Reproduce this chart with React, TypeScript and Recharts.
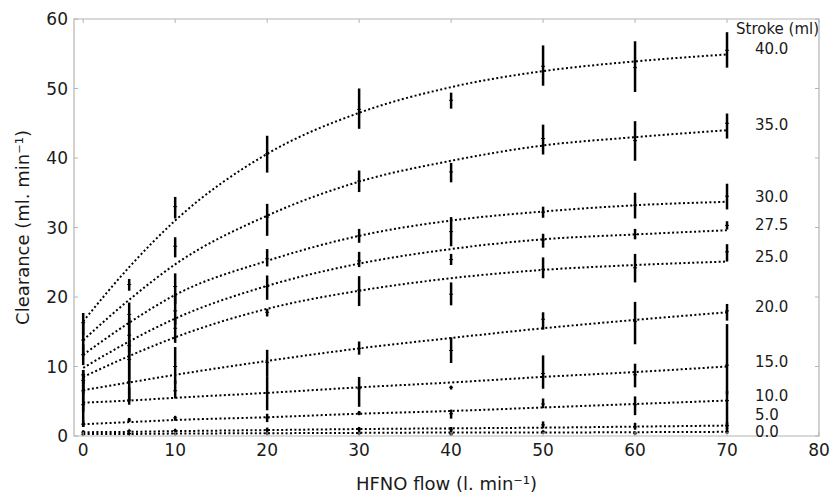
import React from 'react';
import {
  ComposedChart,
  Line,
  Scatter,
  ErrorBar,
  XAxis,
  YAxis,
  ReferenceArea,
  LabelList,
  Customized,
} from 'recharts';

// ---------- data ----------
const flows = [0, 5, 10, 20, 30, 40, 50, 60, 70];
const xTicks = [0, 10, 20, 30, 40, 50, 60, 70, 80];
const yTicks = [0, 10, 20, 30, 40, 50, 60];
const strokeKeys = ['s0', 's5', 's10', 's15', 's20', 's25', 's275', 's30', 's35', 's40'];
const strokeLabels = ['0.0', '5.0', '10.0', '15.0', '20.0', '25.0', '27.5', '30.0', '35.0', '40.0'];

// fitted curves (clearance at each flow)
const fit0 = [0.3, 0.3, 0.35, 0.4, 0.45, 0.5, 0.5, 0.55, 0.6];
const fit5 = [0.55, 0.6, 0.7, 0.85, 1.0, 1.1, 1.2, 1.35, 1.5];
const fit10 = [1.7, 2.0, 2.3, 2.7, 3.2, 3.6, 4.1, 4.6, 5.1];
const fit15 = [4.8, 5.1, 5.5, 6.2, 7.0, 7.7, 8.5, 9.2, 10.0];
const fit20 = [6.6, 7.7, 8.8, 10.8, 12.6, 14.1, 15.5, 16.7, 17.8];
const fit25 = [8.5, 11.5, 14.2, 18.3, 20.9, 22.7, 23.9, 24.6, 25.1];
const fit275 = [9.8, 13.6, 16.9, 21.6, 24.8, 26.9, 28.3, 29.0, 29.6];
const fit30 = [11.7, 16.3, 20.3, 25.2, 28.8, 31.0, 32.3, 33.2, 33.7];
const fit35 = [13.8, 19.6, 24.7, 31.7, 36.6, 39.6, 41.8, 43.0, 44.0];
const fit40 = [16.5, 24.3, 31.0, 40.6, 46.5, 50.2, 52.5, 53.9, 54.9];

// measured means
const mean0 = [0.25, 0.35, 0.35, 0.4, 0.4, 0.3, 0.6, 0.4, 0.6];
const mean5 = [0.55, 0.75, 0.8, 0.9, 0.95, 0.9, 1.6, 1.3, 1.5];
const mean10 = [1.7, 2.3, 2.6, 2.6, 3.3, 3.2, 4.6, 4.5, 5.1];
const mean15 = [4.5, 5.2, 6.5, 6.2, 6.8, 7.0, 9.0, 8.8, 10.2];
const mean20 = [6.5, 7.8, 10.0, 10.6, 12.6, 12.3, 16.8, 16.5, 18.0];
const mean25 = [8.0, 11.0, 15.5, 17.8, 21.0, 20.4, 24.0, 24.2, 26.5];
const mean275 = [8.8, 13.0, 18.0, 21.5, 25.2, 25.4, 28.2, 29.0, 30.3];
const mean30 = [11.7, 14.5, 21.5, 25.5, 28.8, 29.4, 32.2, 33.2, 34.5];
const mean35 = [13.8, 17.5, 27.3, 31.5, 36.7, 38.0, 42.8, 42.5, 45.0];
const mean40 = [16.3, 21.8, 33.0, 40.6, 47.0, 48.3, 53.2, 53.0, 55.5];

// lower ends of the error bars
const low0 = [0.1, 0.2, 0.2, 0.2, 0.2, 0.1, 0.3, 0.2, 0.3];
const low5 = [0.3, 0.6, 0.6, 0.6, 0.6, 0.5, 1.1, 0.9, 0.8];
const low10 = [1.3, 2.0, 2.2, 2.0, 3.0, 2.5, 4.0, 3.0, 1.0];
const low15 = [1.3, 4.5, 5.4, 3.7, 4.2, 6.7, 6.8, 7.0, 6.0];
const low20 = [3.5, 5.0, 7.5, 8.5, 11.7, 10.5, 15.3, 13.2, 16.6];
const low25 = [6.0, 8.0, 13.4, 17.2, 18.7, 18.8, 22.7, 22.1, 25.1];
const low275 = [7.5, 10.5, 16.0, 19.6, 24.3, 24.6, 27.1, 28.3, 29.7];
const low30 = [10.2, 12.0, 19.0, 24.4, 27.8, 27.3, 31.4, 31.3, 32.6];
const low35 = [11.5, 15.0, 25.7, 28.8, 35.1, 36.5, 40.5, 39.6, 42.8];
const low40 = [14.5, 20.9, 31.3, 37.9, 44.2, 47.1, 50.4, 49.5, 53.0];

// upper ends of the error bars
const high0 = [0.4, 0.5, 0.5, 0.6, 0.6, 0.5, 0.8, 0.6, 0.9];
const high5 = [0.8, 0.9, 1.0, 1.2, 1.3, 1.3, 2.1, 1.9, 2.0];
const high10 = [2.2, 2.6, 2.9, 3.2, 3.6, 3.8, 5.4, 5.7, 6.5];
const high15 = [8.0, 7.0, 8.0, 8.5, 8.5, 7.2, 11.6, 10.4, 16.1];
const high20 = [9.0, 10.5, 12.8, 12.4, 13.6, 14.2, 17.8, 19.3, 19.0];
const high25 = [9.5, 13.5, 17.0, 18.3, 23.0, 22.1, 25.7, 26.2, 27.6];
const high275 = [9.5, 15.0, 20.5, 23.1, 26.5, 26.2, 29.1, 29.8, 30.9];
const high30 = [13.2, 17.0, 23.4, 26.9, 29.8, 31.5, 33.0, 35.0, 36.3];
const high35 = [16.5, 19.2, 28.6, 33.4, 38.2, 39.3, 44.8, 45.3, 46.4];
const high40 = [17.7, 22.6, 34.4, 43.2, 50.0, 49.4, 56.2, 56.8, 58.1];

const fits = [fit0, fit5, fit10, fit15, fit20, fit25, fit275, fit30, fit35, fit40];
const means = [mean0, mean5, mean10, mean15, mean20, mean25, mean275, mean30, mean35, mean40];
const lows = [low0, low5, low10, low15, low20, low25, low275, low30, low35, low40];
const highs = [high0, high5, high10, high15, high20, high25, high275, high30, high35, high40];

const rows = flows.map((flow, i) => {
  const r: any = { flow };
  strokeKeys.forEach((k, s) => {
    r[`fit_${k}`] = fits[s][i];
    r[`mean_${k}`] = means[s][i];
    r[`err_${k}`] = [means[s][i] - lows[s][i], highs[s][i] - means[s][i]];
  });
  return r;
});

// ---------- layout / style ----------
const W = 831;
const H = 495;
const PLOT = { left: 74, right: 819, top: 19, bottom: 436 };
const FRAME = '#b4b4b4';
const TEXT = '#1a1a1a';
const FONT = '"DejaVu Sans", sans-serif';

const XTick = (props: any) => {
  const { x, payload } = props;
  return (
    <g>
      <line x1={x} x2={x} y1={PLOT.bottom} y2={PLOT.bottom - 4} stroke={FRAME} strokeWidth={1} />
      <line x1={x} x2={x} y1={PLOT.top} y2={PLOT.top + 4} stroke={FRAME} strokeWidth={1} />
      <text x={x} y={PLOT.bottom + 20} textAnchor="middle" fontSize={17} fill={TEXT} fontFamily={FONT}>
        {payload.value}
      </text>
    </g>
  );
};

const YTick = (props: any) => {
  const { y, payload } = props;
  return (
    <g>
      <line x1={PLOT.left} x2={PLOT.left + 4} y1={y} y2={y} stroke={FRAME} strokeWidth={1} />
      <line x1={PLOT.right} x2={PLOT.right - 4} y1={y} y2={y} stroke={FRAME} strokeWidth={1} />
      <text x={PLOT.left - 6} y={y} textAnchor="end" dominantBaseline="central" fontSize={17} fill={TEXT} fontFamily={FONT}>
        {payload.value}
      </text>
    </g>
  );
};

const labelDy: Record<string, number> = { '5.0': -11, '0.0': 0 };

const makeEndLabel = (text: string) => (props: any) => {
  const { x, y, index } = props;
  if (index !== flows.length - 1) return null;
  const dy = labelDy[text] ?? -5;
  return (
    <text x={x + 28} y={y + dy} dominantBaseline="central" fontSize={15} fill={TEXT} fontFamily={FONT}>
      {text}
    </text>
  );
};

const Cross = (props: any) => {
  const { cx, cy } = props;
  if (cx == null || cy == null) return null;
  return (
    <g>
      <line x1={cx - 2} x2={cx + 2} y1={cy} y2={cy} stroke="#000" strokeWidth={1} />
      <line x1={cx} x2={cx} y1={cy - 2} y2={cy + 2} stroke="#000" strokeWidth={1} />
    </g>
  );
};

const Titles = () => (
  <g fontFamily={FONT} fill={TEXT}>
    <text x={736} y={29} dominantBaseline="central" fontSize={15}>
      Stroke (ml)
    </text>
    <text
      x={22}
      y={(PLOT.top + PLOT.bottom) / 2}
      transform={`rotate(-90, 22, ${(PLOT.top + PLOT.bottom) / 2})`}
      textAnchor="middle"
      dominantBaseline="central"
      fontSize={18}
    >
      Clearance (ml. min⁻¹)
    </text>
    <text x={(PLOT.left + PLOT.right) / 2} y={483} textAnchor="middle" dominantBaseline="central" fontSize={18}>
      HFNO flow (l. min⁻¹)
    </text>
  </g>
);

export default function App() {
  return (
    <div style={{ position: 'absolute', left: 0, top: 0, width: W, height: H, background: '#fff' }}>
      <ComposedChart
        width={W}
        height={H}
        data={rows}
        margin={{ top: PLOT.top, right: W - PLOT.right, bottom: 0, left: 0 }}
        style={{ fontFamily: FONT }}
      >
        <XAxis
          dataKey="flow"
          type="number"
          domain={[-1, 80]}
          ticks={xTicks}
          height={H - PLOT.bottom}
          axisLine={false}
          tickLine={false}
          tick={<XTick />}
          allowDataOverflow
        />
        <YAxis
          type="number"
          domain={[0, 60]}
          ticks={yTicks}
          width={PLOT.left}
          axisLine={false}
          tickLine={false}
          tickSize={4}
          tick={<YTick />}
          allowDataOverflow
        />
        <ReferenceArea x1={-1} x2={80} y1={0} y2={60} fill="none" stroke={FRAME} strokeWidth={1.2} ifOverflow="visible" />
        {strokeKeys.map((k, s) => (
          <Line
            key={`fit_${k}`}
            dataKey={`fit_${k}`}
            type="monotone"
            stroke="#000"
            strokeWidth={2}
            strokeDasharray="2 2.4"
            dot={false}
            activeDot={false}
            isAnimationActive={false}
          >
            <LabelList dataKey={`fit_${k}`} content={makeEndLabel(strokeLabels[s])} />
          </Line>
        ))}
        {strokeKeys.map((k) => (
          <Scatter
            key={`mean_${k}`}
            dataKey={`mean_${k}`}
            shape={<Cross />}
            isAnimationActive={false}
          >
            <ErrorBar
              dataKey={`err_${k}`}
              direction="y"
              width={0}
              stroke="#000"
              strokeWidth={2.5}
              isAnimationActive={false}
            />
          </Scatter>
        ))}
        <Customized component={Titles} />
      </ComposedChart>
    </div>
  );
}
